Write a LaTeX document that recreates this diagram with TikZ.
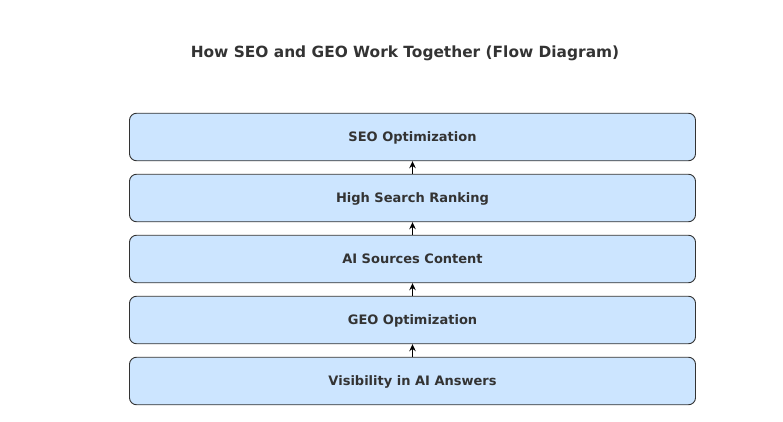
\documentclass[tikz,border=0pt]{standalone}
\usepackage{fontspec}
\setmainfont{DejaVu Sans}
\usetikzlibrary{positioning,arrows.meta}
\definecolor{boxfill}{HTML}{CCE5FF}
\definecolor{ink}{HTML}{333333}
\tikzset{
  stage/.style={draw=ink, fill=boxfill, rounded corners=7pt, line width=0.9pt,
    minimum width=566pt, minimum height=47.5pt, inner sep=0pt,
    text height=9.5pt, text depth=0pt,
    font=\fontsize{13pt}{15pt}\selectfont\bfseries, text=ink},
  flow/.style={-{Stealth[length=7pt,width=6.5pt]}, line width=1.8pt, black}
}
\begin{document}
\begin{tikzpicture}
\useasboundingbox (0,0) rectangle (783pt,-422pt);
\node[font=\fontsize{15.4pt}{18pt}\selectfont\bfseries, text=ink] (title) at (405pt,-53.5pt) {How SEO and GEO Work Together (Flow Diagram)};
\node[stage] (seo) at (412.5pt,-137pt) {SEO Optimization};
\node[stage, below=12.6pt of seo] (rank) {High Search Ranking};
\node[stage, below=12.6pt of rank] (ai) {AI Sources Content};
\node[stage, below=12.6pt of ai] (geo) {GEO Optimization};
\node[stage, below=12.6pt of geo] (vis) {Visibility in AI Answers};
\draw[flow] (rank) -- (seo);
\draw[flow] (ai) -- (rank);
\draw[flow] (geo) -- (ai);
\draw[flow] (vis) -- (geo);
\end{tikzpicture}
\end{document}
